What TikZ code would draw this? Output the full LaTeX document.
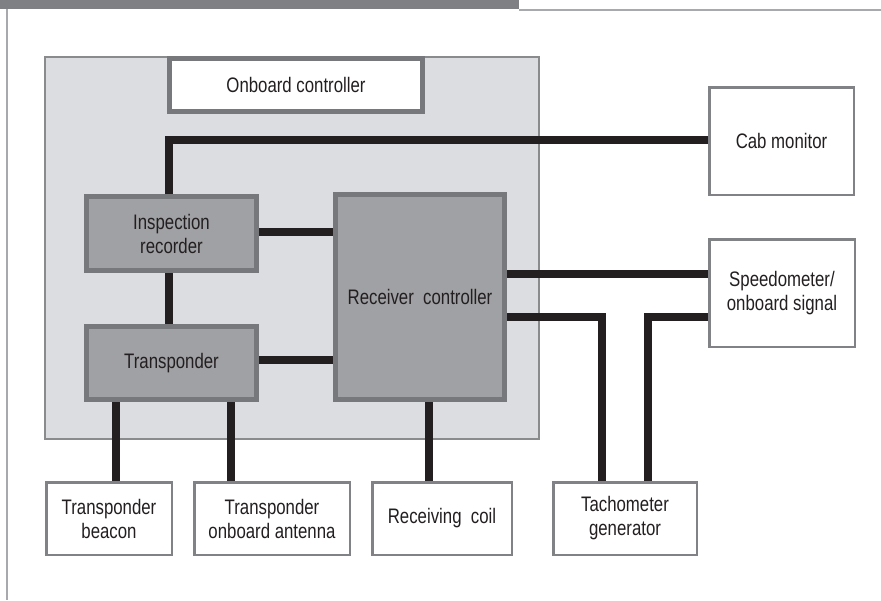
\documentclass[tikz,border=0pt]{standalone}
\usepackage{fontspec}
\setmainfont{Liberation Sans}[FakeStretch=0.8]
\usetikzlibrary{calc}
\definecolor{txt}{HTML}{231F20}
\definecolor{wire}{HTML}{231F20}
\definecolor{outerfill}{HTML}{DCDDE0}
\definecolor{outerline}{HTML}{8A8B8D}
\definecolor{darkfill}{HTML}{A0A1A4}
\definecolor{darkline}{HTML}{77787B}
\definecolor{whiteline}{HTML}{808285}
\definecolor{headbar}{HTML}{7F8083}
\definecolor{frameline}{HTML}{A7A9AC}
\begin{document}
\begin{tikzpicture}[x=1pt,y=-1pt,
  every node/.style={font=\fontsize{21}{24}\selectfont, text=txt, align=center, inner sep=0pt},
  darkbox/.style={draw=darkline, fill=darkfill, line width=5pt, rectangle},
  ctrlbox/.style={draw=darkline, fill=white, line width=5pt, rectangle},
  whitebox/.style={draw=whiteline, fill=white, line width=2.5pt, rectangle},
  wireline/.style={draw=wire, line width=8pt, line cap=butt}]
\useasboundingbox (0,0) rectangle (881,600);
% page frame
\fill[headbar] (0,0) rectangle (519,9);
\draw[frameline, line width=2pt] (519,9.5) -- (881,9.5);
\draw[frameline, line width=2pt] (7,9) -- (7,600);
% outer onboard area
\node[draw=outerline, fill=outerfill, line width=2pt, minimum width=494pt, minimum height=382pt] (outer) at (292,248) {};
% boxes
\node[ctrlbox, minimum width=253pt, minimum height=53pt] (oc) at (296,85) {Onboard controller};
\node[darkbox, minimum width=170pt, minimum height=74pt] (ir) at (171.5,233.5) {Inspection\\recorder};
\node[darkbox, minimum width=170pt, minimum height=73pt] (tr) at (171.5,363) {Transponder};
\node[darkbox, minimum width=169pt, minimum height=205pt] (rc) at (420,297) {Receiver\ \ controller};
\node[whitebox, minimum width=144.5pt, minimum height=107.5pt] (cab) at (781.5,141) {Cab monitor};
\node[whitebox, minimum width=145.5pt, minimum height=107.5pt] (sp) at (782,293) {Speedometer/\\onboard signal};
\node[whitebox, minimum width=125.5pt, minimum height=72.5pt] (tb) at (109,518.5) {Transponder\\beacon};
\node[whitebox, minimum width=155.5pt, minimum height=72.5pt] (ta) at (272,518.5) {Transponder\\onboard antenna};
\node[whitebox, minimum width=139.5pt, minimum height=72.5pt] (rcoil) at (442,518.5) {Receiving\ \ coil};
\node[whitebox, minimum width=143.5pt, minimum height=72.5pt] (tg) at (625,518.5) {Tachometer\\generator};
% connectors
\draw[wireline] ($(ir.north)+(-2.5,0)$) |- ($(cab.west)+(0,-1)$);
\draw[wireline] ($(ir.south)+(-2.5,0)$) -- ($(tr.north)+(-2.5,0)$);
\draw[wireline] ($(ir.east)+(0,-1.5)$) coordinate (a1) -- (a1 -| rc.west);
\draw[wireline] ($(tr.east)+(0,-3)$) coordinate (a2) -- (a2 -| rc.west);
\draw[wireline] ($(sp.west)+(0,-19)$) coordinate (s1) -- (s1 -| rc.east);
\draw[wireline] ($(sp.west)+(0,24)$) coordinate (s2);
\draw[wireline] (s2 -| rc.east) -| ($(tg.north)+(-23,0)$);
\draw[wireline] (s2) -| ($(tg.north)+(23,0)$);
\draw[wireline] ($(tb.north)+(7,0)$) coordinate (b1) -- (b1 |- tr.south);
\draw[wireline] ($(ta.north)+(-41,0)$) coordinate (b2) -- (b2 |- tr.south);
\draw[wireline] ($(rcoil.north)+(-13,0)$) coordinate (b3) -- (b3 |- rc.south);
\end{tikzpicture}
\end{document}
